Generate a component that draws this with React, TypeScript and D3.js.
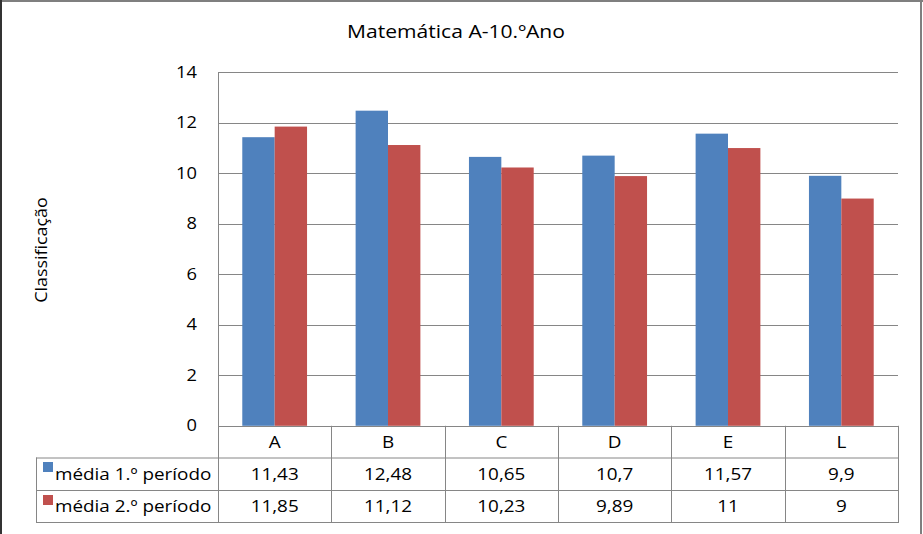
import React from "react";
import * as d3 from "d3";

const categories = ["A", "B", "C", "D", "E", "L"];
const series1Name = "média 1.º período";
const series2Name = "média 2.º período";
const series1 = [11.43, 12.48, 10.65, 10.7, 11.57, 9.9];
const series2 = [11.85, 11.12, 10.23, 9.89, 11, 9];
const series1Labels = ["11,43", "12,48", "10,65", "10,7", "11,57", "9,9"];
const series2Labels = ["11,85", "11,12", "10,23", "9,89", "11", "9"];
const yTicks = [0, 2, 4, 6, 8, 10, 12, 14];
const title = "Matemática A-10.ºAno";
const yTitle = "Classificação";

const W = 923;
const H = 534;
const FONT = "'Open Sans', sans-serif";
const BLUE = "#4F81BD";
const RED = "#C0504D";
const GRID = "#868686";
const SX = 1.18;

type TProps = {
  x: number;
  y: number;
  size: number;
  anchor?: "start" | "middle" | "end";
  sx?: number;
  rotate?: number;
  children: React.ReactNode;
};

function T({ x, y, size, anchor = "start", sx = SX, rotate = 0, children }: TProps) {
  return (
    <text
      transform={`translate(${x},${y}) rotate(${rotate}) scale(${sx},1)`}
      textAnchor={anchor}
      fontSize={size}
      fill="#000"
    >
      {children}
    </text>
  );
}

export default function App() {
  const plotLeft = 218;
  const plotRight = 898;
  const plotTop = 72.3;
  const plotBottom = 425.8;
  const tableLeft = 36;
  const row1 = 457.5;
  const row2 = 490;
  const row3 = 522;

  const x = d3.scaleBand<string>().domain(categories).range([plotLeft, plotRight]).padding(0);
  const step = x.bandwidth();
  const barW = step / 3.5;
  const inner = d3
    .scaleBand<string>()
    .domain(["s1", "s2"])
    .range([barW * 0.75, step - barW * 0.75])
    .padding(0);
  const y = d3.scaleLinear().domain([0, 14]).range([plotBottom, plotTop]);

  const colBounds = categories.map((c) => x(c) as number).concat([plotRight]);

  return (
    <div style={{ position: "absolute", left: 0, top: 0, width: W, height: H }}>
      <svg width={W} height={H} style={{ display: "block" }} fontFamily={FONT}>
        <rect x={0} y={0} width={W} height={H} fill="#ffffff" />
        <line x1={0} x2={W} y1={1} y2={1} stroke="#7f7f7f" strokeWidth={2} />
        <line x1={921} x2={921} y1={0} y2={H} stroke="#7f7f7f" strokeWidth={2} />
        <line x1={1} x2={1} y1={0} y2={H} stroke="#333" strokeWidth={2} />

        <T x={456} y={38} size={18.5} anchor="middle" sx={1.14}>
          {title}
        </T>

        {/* gridlines */}
        {yTicks.map((t) => (
          <line key={"g" + t} x1={plotLeft} x2={plotRight} y1={Math.round(y(t)) + 0.5} y2={Math.round(y(t)) + 0.5} stroke={GRID} strokeWidth={1} />
        ))}
        {yTicks.map((t) => (
          <T key={"t" + t} x={197} y={y(t) + 5.5} size={15.5} anchor="end">
            {t}
          </T>
        ))}

        <T x={47} y={250} size={16} anchor="middle" rotate={-90} sx={1.12}>
          {yTitle}
        </T>

        {/* bars */}
        {categories.map((c, i) => (
          <g key={"b" + c}>
            <rect x={(x(c) as number) + (inner("s1") as number)} y={y(series1[i])} width={inner.bandwidth()} height={plotBottom - y(series1[i])} fill={BLUE} />
            <rect x={(x(c) as number) + (inner("s2") as number)} y={y(series2[i])} width={inner.bandwidth()} height={plotBottom - y(series2[i])} fill={RED} />
          </g>
        ))}

        {/* axis line */}
        <line x1={plotLeft + 0.5} x2={plotLeft + 0.5} y1={plotTop} y2={row3} stroke={GRID} />

        {/* data table */}
        {colBounds.slice(1).map((b, i) => (
          <line key={"v" + i} x1={Math.round(b) + 0.5} x2={Math.round(b) + 0.5} y1={plotBottom} y2={row3} stroke={GRID} />
        ))}
        <line x1={tableLeft + 0.5} x2={tableLeft + 0.5} y1={row1} y2={row3} stroke={GRID} />
        <line x1={tableLeft} x2={plotRight} y1={row1 + 0.5} y2={row1 + 0.5} stroke={GRID} />
        <line x1={tableLeft} x2={plotRight} y1={row2 + 0.5} y2={row2 + 0.5} stroke={GRID} />
        <line x1={tableLeft} x2={plotRight + 1} y1={row3 + 0.5} y2={row3 + 0.5} stroke={GRID} />

        {categories.map((c) => (
          <T key={"h" + c} x={(x(c) as number) + step / 2} y={447.5} size={16} anchor="middle">
            {c}
          </T>
        ))}
        {categories.map((c, i) => (
          <T key={"r1" + c} x={(x(c) as number) + step / 2} y={480} size={16} anchor="middle">
            {series1Labels[i]}
          </T>
        ))}
        {categories.map((c, i) => (
          <T key={"r2" + c} x={(x(c) as number) + step / 2} y={512} size={16} anchor="middle">
            {series2Labels[i]}
          </T>
        ))}

        <rect x={43} y={462} width={10} height={10} fill={BLUE} />
        <T x={55} y={480} size={16}>
          {series1Name}
        </T>
        <rect x={43} y={495} width={10} height={10} fill={RED} />
        <T x={55} y={512} size={16}>
          {series2Name}
        </T>
      </svg>
    </div>
  );
}
